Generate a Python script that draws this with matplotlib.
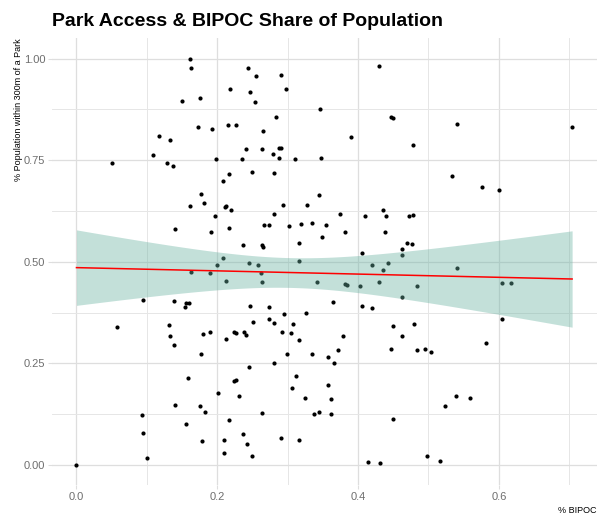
import numpy as np
import matplotlib.pyplot as plt

plt.rcParams['font.family'] = ['Liberation Sans', 'DejaVu Sans']

# share of BIPOC residents per area (x) and share of population within 300m of a park (y)
bipoc = [
    0.161, 0.162, 0.218, 0.150, 0.176, 0.173, 0.192, 0.215, 0.227, 0.117, 0.133, 0.109, 0.198, 0.051, 0.129, 0.137, 0.217, 0.208, 0.177,
    0.243, 0.255, 0.290, 0.247, 0.297, 0.253, 0.429, 0.346, 0.447, 0.450, 0.284, 0.265, 0.390, 0.241, 0.264, 0.287, 0.290, 0.279, 0.235, 0.288, 0.310, 0.348, 0.250, 0.280, 0.345,
    0.540, 0.478, 0.704, 0.534, 0.576, 0.600,
    0.161, 0.181, 0.211, 0.213, 0.219, 0.197, 0.140, 0.191, 0.217, 0.208, 0.199, 0.162, 0.190, 0.213, 0.094, 0.138, 0.156, 0.160, 0.154, 0.057, 0.131, 0.133, 0.179, 0.189, 0.213, 0.224, 0.226,
    0.294, 0.328, 0.280, 0.374, 0.410, 0.436, 0.440, 0.472, 0.267, 0.274, 0.302, 0.319, 0.334, 0.354, 0.381, 0.438, 0.349, 0.237, 0.263, 0.265, 0.316, 0.469, 0.405, 0.462, 0.463,
    0.245, 0.258, 0.262, 0.316, 0.263, 0.341, 0.381, 0.384, 0.403, 0.420, 0.436, 0.442, 0.430, 0.463, 0.246, 0.274, 0.365, 0.405, 0.420, 0.295, 0.326, 0.251, 0.273, 0.280, 0.308,
    0.449, 0.238, 0.241, 0.292, 0.305, 0.316, 0.379, 0.463,
    0.478, 0.477, 0.540, 0.483, 0.605, 0.617, 0.604, 0.479,
    0.139, 0.177, 0.159, 0.224, 0.226, 0.201, 0.231, 0.140, 0.175, 0.182, 0.093, 0.155, 0.217, 0.095, 0.178, 0.210, 0.210, 0.100, 0.000,
    0.299, 0.335, 0.357, 0.372, 0.366, 0.447, 0.281, 0.245, 0.312, 0.306, 0.357, 0.324, 0.361, 0.263, 0.337, 0.344, 0.362, 0.450, 0.237, 0.242, 0.291, 0.316, 0.250, 0.414, 0.431,
    0.484, 0.495, 0.503, 0.582, 0.539, 0.559, 0.524, 0.498, 0.516,
]
park_access = [
    0.998, 0.976, 0.926, 0.896, 0.904, 0.832, 0.826, 0.836, 0.836, 0.809, 0.800, 0.763, 0.754, 0.742, 0.744, 0.736, 0.716, 0.698, 0.666,
    0.976, 0.958, 0.959, 0.918, 0.924, 0.892, 0.982, 0.876, 0.857, 0.853, 0.856, 0.822, 0.808, 0.777, 0.778, 0.781, 0.781, 0.766, 0.754, 0.756, 0.754, 0.756, 0.722, 0.718, 0.664,
    0.838, 0.788, 0.832, 0.710, 0.684, 0.676,
    0.638, 0.644, 0.635, 0.638, 0.628, 0.613, 0.581, 0.572, 0.582, 0.510, 0.492, 0.474, 0.472, 0.453, 0.406, 0.404, 0.399, 0.399, 0.388, 0.339, 0.344, 0.317, 0.322, 0.328, 0.311, 0.328, 0.324,
    0.640, 0.640, 0.617, 0.618, 0.613, 0.628, 0.613, 0.613, 0.590, 0.590, 0.588, 0.592, 0.595, 0.590, 0.574, 0.574, 0.560, 0.540, 0.540, 0.537, 0.547, 0.547, 0.522, 0.531, 0.517,
    0.496, 0.492, 0.472, 0.501, 0.450, 0.450, 0.446, 0.444, 0.440, 0.492, 0.480, 0.496, 0.450, 0.413, 0.392, 0.388, 0.400, 0.390, 0.386, 0.371, 0.374, 0.352, 0.360, 0.350, 0.346,
    0.342, 0.328, 0.320, 0.326, 0.324, 0.308, 0.317, 0.318,
    0.614, 0.544, 0.484, 0.440, 0.448, 0.448, 0.358, 0.348,
    0.296, 0.274, 0.214, 0.206, 0.209, 0.178, 0.170, 0.148, 0.146, 0.130, 0.124, 0.100, 0.111, 0.078, 0.058, 0.062, 0.030, 0.018, 0.000,
    0.274, 0.272, 0.266, 0.282, 0.252, 0.286, 0.250, 0.242, 0.218, 0.190, 0.196, 0.164, 0.162, 0.128, 0.126, 0.130, 0.126, 0.114, 0.075, 0.052, 0.066, 0.062, 0.022, 0.007, 0.004,
    0.282, 0.286, 0.278, 0.300, 0.170, 0.164, 0.144, 0.022, 0.011,
]

x_ticks = [0.0, 0.2, 0.4, 0.6]
y_ticks = [0.0, 0.25, 0.5, 0.75, 1.0]

x = np.array(bipoc)
y = np.array(park_access)

# linear fit with 95% confidence band (like geom_smooth(method="lm"))
n = len(x)
slope, intercept = np.polyfit(x, y, 1)
xs = np.linspace(x.min(), x.max(), 100)
fit = intercept + slope * xs
resid = y - (intercept + slope * x)
s = np.sqrt(np.sum(resid ** 2) / (n - 2))
se = s * np.sqrt(1 / n + (xs - x.mean()) ** 2 / np.sum((x - x.mean()) ** 2))
ci = 1.973 * se

fig = plt.figure(figsize=(5.97, 5.19), dpi=100)
ax = fig.add_axes([51.7 / 597, (519 - 485.3) / 519, 545.2 / 597, 447.1 / 519])

ax.scatter(x, y, s=9, color='black', linewidths=0, zorder=2)
ax.fill_between(xs, fit - ci, fit + ci, color='#69b3a2', alpha=0.4, linewidth=0, zorder=3)
ax.plot(xs, fit, color='red', lw=1.1, zorder=4)

xr = x.max() - x.min()
ax.set_xlim(x.min() - 0.05 * xr, x.max() + 0.05 * xr)
ax.set_ylim(-0.05, 1.05)
ax.set_xticks(x_ticks)
ax.set_xticklabels(['0.0', '0.2', '0.4', '0.6'])
ax.set_yticks(y_ticks)
ax.set_yticklabels(['0.00', '0.25', '0.50', '0.75', '1.00'])
ax.set_xticks([0.1, 0.3, 0.5, 0.7], minor=True)
ax.set_yticks([0.125, 0.375, 0.625, 0.875], minor=True)
ax.grid(which='major', color='#DEDEDE', lw=0.9)
ax.grid(which='minor', color='#E6E6E6', lw=0.7)
ax.set_axisbelow(True)
for sp in ax.spines.values():
    sp.set_visible(False)
ax.tick_params(which='major', length=3, color='#DEDEDE', labelcolor='#6E6E6E', labelsize=8, pad=1.5)
ax.tick_params(which='minor', length=0)

ax.set_xlabel('% BIPOC', loc='right', fontsize=6.5, labelpad=3)
ax.set_ylabel('% Population within 300m of a Park', loc='top', fontsize=6.5, labelpad=1)
ax.set_title('Park Access & BIPOC Share of Population', loc='left', fontsize=14,
             fontweight='bold', pad=9)

plt.savefig('out.png', dpi=100)
plt.close('all')
